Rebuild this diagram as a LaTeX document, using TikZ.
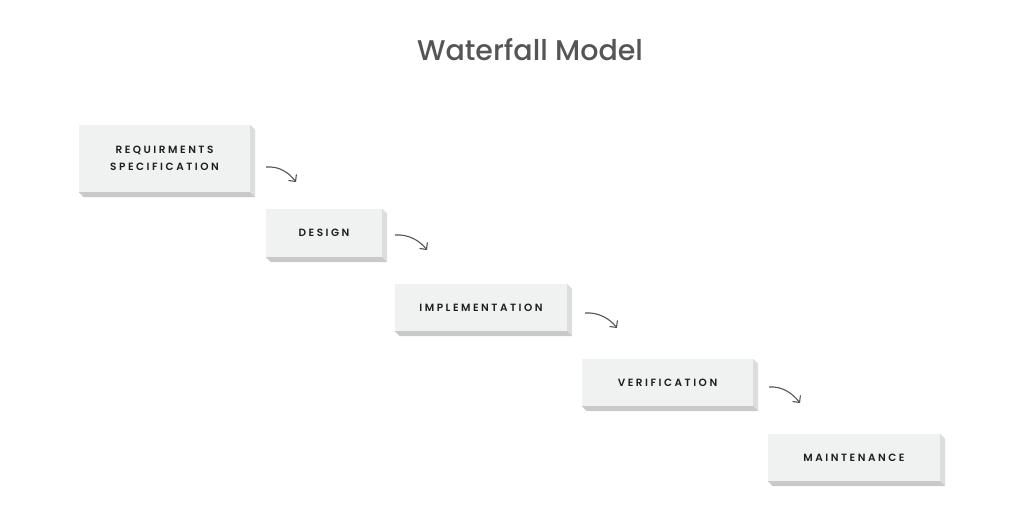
\documentclass[tikz,border=0pt]{standalone}
\usepackage{fontspec}
\setmainfont{Poppins}
\newfontfamily\titlefont{Poppins Medium}
\newfontfamily\boxfont[LetterSpace=24]{Poppins SemiBold}
\usetikzlibrary{arrows.meta,calc}
\definecolor{facec}{HTML}{F0F1F1}
\definecolor{sidec}{HTML}{DCDDDD}
\definecolor{botc}{HTML}{C9C9C9}
\definecolor{titlec}{HTML}{555555}
\definecolor{textc}{HTML}{1E1E1E}
\definecolor{arrc}{HTML}{555555}
\tikzset{
  stagebox/.style={fill=facec, inner sep=0pt, text=textc,
    font=\boxfont\fontsize{10.5}{17}\selectfont, align=center},
  flowarrow/.style={draw=arrc, line width=1.1pt, -{Straight Barb[length=5pt,width=10pt,line width=1.1pt]}},
}
\newcommand{\sides}[1]{%
  \fill[sidec] (#1.north east) -- ++(5,5) -- ($(#1.south east)+(5,5)$) -- (#1.south east) -- cycle;
  \fill[botc] (#1.south west) -- (#1.south east) -- ++(5,5) -- ($(#1.south west)+(5,5)$) -- cycle;
}
\begin{document}
\begin{tikzpicture}[x=1pt,y=-1pt]
\useasboundingbox[fill=white] (0,0) rectangle (1024,507);
\node[text=titlec, font=\titlefont\fontsize{28.5}{32}\selectfont] (title) at (530,50) {Waterfall Model};

\node[stagebox, minimum width=171pt, minimum height=67pt] (b1) at (164.5,158.5) {REQUIRMENTS\\SPECIFICATION};
\node[stagebox, minimum width=116pt, minimum height=48pt] (b2) at (324,233) {\raisebox{-1pt}{DESIGN}};
\node[stagebox, minimum width=172pt, minimum height=47pt] (b3) at (481,307.5) {\raisebox{-1pt}{IMPLEMENTATION}};
\node[stagebox, minimum width=171pt, minimum height=47pt] (b4) at (667.5,382.5) {\raisebox{-1pt}{VERIFICATION}};
\node[stagebox, minimum width=172pt, minimum height=47pt] (b5) at (854,457.5) {\raisebox{-1pt}{MAINTENANCE}};
\sides{b1}\sides{b2}\sides{b3}\sides{b4}\sides{b5}

\coordinate (a1s) at (266,167); \coordinate (a1e) at (296,182);
\coordinate (a2s) at (395,235); \coordinate (a2e) at (427,250);
\coordinate (a3s) at (585,313); \coordinate (a3e) at (617,328);
\coordinate (a4s) at (769,387); \coordinate (a4e) at (800,403);
\foreach \i in {1,2,3,4}{
  \draw[flowarrow] (a\i s) .. controls ($(a\i s)+(14,-1)$) and ($(a\i e)+(-7,-9)$) .. (a\i e);
}
\end{tikzpicture}
\end{document}
